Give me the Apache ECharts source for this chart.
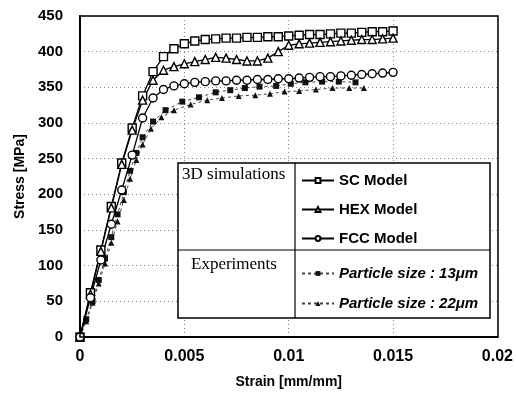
<!DOCTYPE html>
<html>
<head>
<meta charset="utf-8">
<script src="https://cdn.jsdelivr.net/npm/echarts@6/dist/echarts.min.js"></script>
<style>
  html, body { margin: 0; padding: 0; background: #fff; }
  #chart { width: 516px; height: 405px; }
</style>
</head>
<body>
<div id="chart"></div>
<script>
  // strain [mm/mm], stress [MPa]
  const scStrain = [0, 0.0005, 0.001, 0.0015, 0.002, 0.0025, 0.003, 0.0035, 0.004, 0.0045, 0.005, 0.0055, 0.006, 0.0065, 0.007, 0.0075, 0.008, 0.0085, 0.009, 0.0095, 0.01, 0.0105, 0.011, 0.0115, 0.012, 0.0125, 0.013, 0.0135, 0.014, 0.0145, 0.015]
  const scStress = [0, 62, 122, 183, 244, 293, 338, 372, 393, 404, 411, 415, 417, 418, 419, 419, 420, 420, 421, 421, 422, 423, 424, 424, 425, 426, 426, 427, 428, 428, 429]
  const hexStress = [0, 60, 120, 181, 242, 290, 332, 360, 374, 379, 383, 386, 389, 392, 391, 389, 387, 387, 391, 400, 409, 411, 412, 413, 414, 415, 416, 417, 417, 418, 419]
  const fccStress = [0, 55, 108, 158, 206, 255, 307, 335, 347, 352, 355, 357, 358, 359, 359, 360, 360, 361, 361, 362, 362, 363, 364, 365, 365, 366, 367, 368, 369, 370, 371]

  const exp13Strain = [0, 0.0003, 0.0006, 0.0009, 0.0012, 0.0015, 0.0018, 0.0021, 0.0024, 0.0027, 0.003, 0.0035, 0.0041, 0.0049, 0.0057, 0.0065, 0.0072, 0.0079, 0.0086, 0.0094, 0.0101, 0.0108, 0.0116, 0.0124, 0.0132]
  const exp13Stress = [0, 25, 50, 80, 110, 140, 172, 203, 233, 258, 280, 302, 318, 330, 336, 343, 346, 349, 351, 352, 355, 357, 358, 358, 357]
  const exp22Strain = [0, 0.0003, 0.0006, 0.0009, 0.0012, 0.0015, 0.0018, 0.0021, 0.0024, 0.0027, 0.003, 0.0034, 0.0039, 0.0045, 0.0053, 0.0061, 0.0068, 0.0076, 0.0084, 0.0091, 0.0098, 0.0105, 0.0113, 0.0121, 0.0129, 0.0136]
  const exp22Stress = [0, 22, 48, 75, 103, 132, 162, 192, 222, 248, 270, 292, 308, 318, 326, 332, 335, 338, 339, 341, 344, 345, 347, 349, 349, 349]

  const xTicks = [0, 0.005, 0.01, 0.015, 0.02]
  const yTicks = [0, 50, 100, 150, 200, 250, 300, 350, 400, 450]

  const simNames = ['SC Model', 'HEX Model', 'FCC Model']
  const expNames = ['Particle size : 13μm', 'Particle size : 22μm']

  const pair = (xs, ys) => xs.map((x, i) => [x, ys[i]])

  const chart = echarts.init(document.getElementById('chart'))

  const sansBold = { fontFamily: 'Liberation Sans', fontWeight: 'bold', color: '#000' }
  const dotted = { color: '#888', type: [1, 3], width: 1 }

  const simLine = (name, symbol, stress) => ({
    name,
    type: 'line',
    data: pair(scStrain, stress),
    symbol,
    symbolSize: 8,
    lineStyle: { color: '#000', width: 1.3 },
    itemStyle: { color: '#fff', borderColor: '#000', borderWidth: 1.4 },
    z: 3
  })

  const expLine = (name, symbol, xs, ys, size) => ({
    name,
    type: 'line',
    data: pair(xs, ys),
    symbol,
    symbolSize: size,
    lineStyle: { color: '#444', width: 1, type: [3, 3] },
    itemStyle: { color: '#111' },
    z: 2
  })

  const legendBase = {
    orient: 'vertical',
    left: 296,
    itemWidth: 32,
    itemHeight: 6,
    selectedMode: false,
    z: 50,
    textStyle: { ...sansBold, fontSize: 15 }
  }

  const option = {
    backgroundColor: '#fff',
    animation: false,
    grid: { left: 80, right: 18, top: 16, bottom: 68 },
    xAxis: {
      type: 'value',
      min: 0,
      max: 0.02,
      interval: 0.005,
      name: 'Strain [mm/mm]',
      nameLocation: 'center',
      nameGap: 38,
      nameTextStyle: { ...sansBold, fontSize: 14 },
      axisLine: { lineStyle: { color: '#000', width: 2 } },
      axisTick: { show: false },
      axisLabel: {
        ...sansBold,
        fontSize: 16,
        margin: 12,
        formatter: (v) => (xTicks.includes(v) ? String(v) : '')
      },
      splitLine: { show: true, lineStyle: dotted }
    },
    yAxis: {
      type: 'value',
      min: 0,
      max: 450,
      interval: 50,
      name: 'Stress [MPa]',
      nameLocation: 'center',
      nameGap: 52,
      nameTextStyle: { ...sansBold, fontSize: 14 },
      axisLine: { lineStyle: { color: '#000', width: 2 } },
      axisTick: { show: false },
      axisLabel: {
        ...sansBold,
        fontSize: 15,
        margin: 17,
        formatter: (v) => (yTicks.includes(v) ? String(v) : '')
      },
      splitLine: { show: true, lineStyle: dotted }
    },
    legend: [
      { ...legendBase, data: simNames, top: 168, itemGap: 14 },
      {
        ...legendBase,
        data: expNames,
        top: 261,
        itemGap: 15,
        textStyle: { ...sansBold, fontSize: 15, fontStyle: 'italic' }
      }
    ],
    graphic: [
      {
        type: 'rect',
        shape: { x: 178, y: 163, width: 312, height: 155 },
        style: { fill: '#fff', stroke: '#000', lineWidth: 1.5 },
        z: 10
      },
      {
        type: 'line',
        shape: { x1: 295, y1: 163, x2: 295, y2: 318 },
        style: { stroke: '#000', lineWidth: 1.2 },
        z: 11
      },
      {
        type: 'line',
        shape: { x1: 178, y1: 250, x2: 490, y2: 250 },
        style: { stroke: '#000', lineWidth: 1.2 },
        z: 11
      },
      {
        type: 'text',
        left: 182,
        top: 166,
        style: { text: '3D simulations', font: '17px "Liberation Serif"', fill: '#000' },
        z: 11
      },
      {
        type: 'text',
        left: 191,
        top: 256,
        style: { text: 'Experiments', font: '17px "Liberation Serif"', fill: '#000' },
        z: 11
      },
      {
        type: 'rect',
        shape: { x: 80, y: 16, width: 418, height: 321 },
        style: { fill: 'none', stroke: '#000', lineWidth: 1.5 },
        silent: true,
        z: 12
      }
    ],
    series: [
      simLine(simNames[0], 'rect', scStress),
      simLine(simNames[1], 'triangle', hexStress),
      simLine(simNames[2], 'circle', fccStress),
      expLine(expNames[0], 'rect', exp13Strain, exp13Stress, 6),
      expLine(expNames[1], 'triangle', exp22Strain, exp22Stress, 6)
    ]
  }

  chart.setOption(option)
</script>
</body>
</html>
